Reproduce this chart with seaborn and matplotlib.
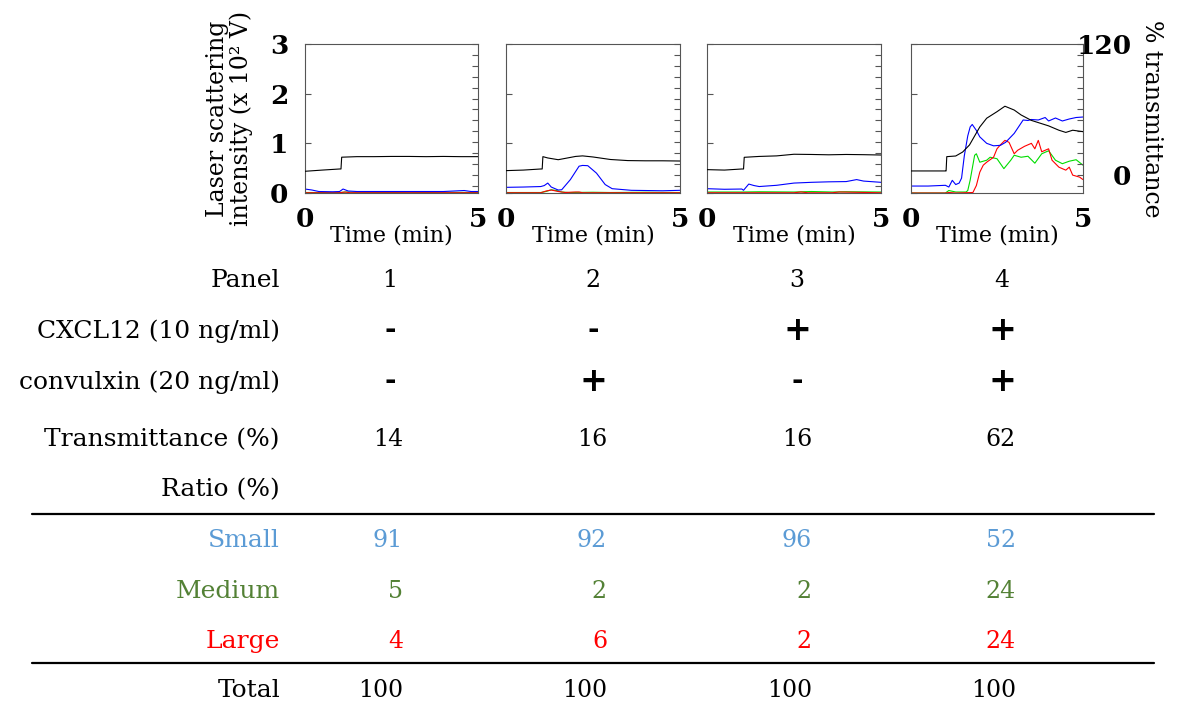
import matplotlib
matplotlib.use("Agg")
import matplotlib.pyplot as plt
import seaborn as sns
from matplotlib.lines import Line2D
from matplotlib.ticker import MultipleLocator, FixedLocator

sns.set_theme(style="white", rc={"text.color": "black", "axes.labelcolor": "black",
                                 "xtick.color": "black", "ytick.color": "black"})
plt.rcParams['font.family'] = ['DejaVu Serif']

# ---------------- data: traces (time in min) ----------------
# black = % transmittance (right axis); blue/green/red = small/medium/large (left axis, x10^2 V)
p1_black_t = [0, 0.5, 1.0, 1.04, 1.06, 1.5, 2.0, 2.5, 3.0, 3.5, 4.0, 4.5, 5.0]
p1_black = [3.4, 4.5, 5.5, 5.5, 16.3, 16.8, 16.8, 17.0, 17.0, 16.8, 17.0, 16.8, 16.8]
p1_blue_t = [0, 0.2, 0.4, 0.8, 1.0, 1.1, 1.25, 1.5, 2.0, 3.0, 4.0, 4.6, 4.8, 5.0]
p1_blue = [0.08, 0.06, 0.03, 0.025, 0.03, 0.08, 0.04, 0.03, 0.03, 0.03, 0.03, 0.05, 0.03, 0.03]
p1_green_t = [0, 1.0, 1.2, 1.5, 2.5, 3.0, 3.5, 4.0, 5.0]
p1_green = [0.01, 0.01, 0.02, 0.015, 0.01, 0.015, 0.01, 0.015, 0.01]
p1_red_t = [0, 1.0, 1.15, 1.3, 5.0]
p1_red = [0.005, 0.005, 0.02, 0.005, 0.005]

p2_black_t = [0, 0.5, 1.0, 1.04, 1.06, 1.2, 1.5, 1.8, 2.0, 2.2, 2.5, 3.0, 3.5, 4.0, 4.5, 5.0]
p2_black = [4.0, 4.5, 5.5, 5.5, 16.8, 15.6, 14.0, 15.8, 17.0, 17.5, 16.5, 14.2, 13.2, 13.0, 13.0, 12.8]
p2_blue_t = [0, 0.5, 1.0, 1.1, 1.2, 1.3, 1.5, 1.6, 1.85, 2.1, 2.2, 2.35, 2.6, 2.85, 3.05, 3.6, 4.0, 4.5, 5.0]
p2_blue = [0.114, 0.12, 0.13, 0.15, 0.2, 0.12, 0.06, 0.065, 0.27, 0.54, 0.555, 0.55, 0.4, 0.17, 0.087, 0.054, 0.05, 0.045, 0.054]
p2_green_t = [0, 1.0, 1.15, 1.3, 1.45, 1.6, 1.8, 2.5, 3.0, 4.0, 5.0]
p2_green = [0.01, 0.01, 0.03, 0.065, 0.05, 0.02, 0.01, 0.015, 0.01, 0.015, 0.01]
p2_red_t = [0, 1.0, 1.15, 1.3, 1.5, 1.7, 2.0, 2.1, 2.2, 2.4, 5.0]
p2_red = [0.005, 0.005, 0.04, 0.06, 0.03, 0.01, 0.02, 0.02, 0.005, 0.005, 0.005]

p3_black_t = [0, 0.5, 1.0, 1.05, 1.07, 1.5, 2.0, 2.5, 3.0, 3.5, 4.0, 4.5, 5.0]
p3_black = [4.9, 4.5, 5.5, 5.5, 16.2, 17.0, 17.5, 19.0, 18.8, 18.5, 18.8, 18.6, 18.3]
p3_blue_t = [0, 0.5, 1.0, 1.05, 1.2, 1.35, 1.5, 2.0, 2.5, 3.0, 3.5, 4.0, 4.3, 4.5, 5.0]
p3_blue = [0.087, 0.075, 0.08, 0.055, 0.18, 0.15, 0.13, 0.155, 0.2, 0.215, 0.225, 0.23, 0.27, 0.24, 0.215]
p3_green_t = [0, 1.0, 1.5, 2.5, 3.0, 3.6, 4.0, 5.0]
p3_green = [0.02, 0.02, 0.025, 0.02, 0.03, 0.02, 0.025, 0.02]
p3_red_t = [0, 2.5, 2.7, 2.9, 3.6, 3.8, 5.0]
p3_red = [0.005, 0.005, 0.02, 0.005, 0.005, 0.02, 0.005]

p4_black_t = [0, 0.5, 1.0, 1.02, 1.04, 1.3, 1.5, 1.7, 2.0, 2.2, 2.5, 2.73, 3.0, 3.2, 3.5, 3.8, 4.0, 4.3, 4.5, 4.7, 5.0]
p4_black = [3.7, 3.7, 3.7, 3.7, 16.8, 17.4, 21, 27.5, 44, 52, 58, 63, 59.5, 55, 50, 47, 45, 41, 39, 41, 39.7]
p4_blue_t = [0, 0.5, 1.0, 1.1, 1.2, 1.3, 1.4, 1.47, 1.55, 1.65, 1.72, 1.78, 1.9, 2.0, 2.2, 2.4, 2.6, 2.75,
             3.0, 3.26, 3.4, 3.5, 3.7, 3.9, 4.0, 4.2, 4.4, 4.6, 4.8, 5.0]
p4_blue = [0.14, 0.14, 0.155, 0.12, 0.255, 0.17, 0.2, 0.3, 0.75, 1.15, 1.33, 1.38, 1.26, 1.13, 1.0, 0.95, 0.96, 1.02,
           1.2, 1.47, 1.46, 1.48, 1.47, 1.52, 1.45, 1.51, 1.45, 1.49, 1.52, 1.53]
p4_green_t = [0, 1.0, 1.1, 1.3, 1.6, 1.65, 1.72, 1.85, 1.9, 2.0, 2.2, 2.3, 2.5, 2.7, 2.9, 3.0, 3.2, 3.4, 3.6,
              3.8, 4.0, 4.2, 4.4, 4.6, 4.8, 5.0]
p4_green = [0, 0, 0.05, 0.02, 0.02, 0.05, 0.26, 0.76, 0.79, 0.62, 0.66, 0.72, 0.69, 0.49, 0.66, 0.76, 0.72, 0.74, 0.6,
            0.79, 0.85, 0.66, 0.59, 0.64, 0.67, 0.56]
p4_red_t = [0, 1.0, 1.1, 1.3, 1.8, 1.9, 2.0, 2.1, 2.2, 2.4, 2.5, 2.6, 2.73, 2.85, 3.0, 3.1, 3.3, 3.5, 3.6, 3.7,
            3.8, 4.0, 4.1, 4.3, 4.5, 4.6, 4.7, 4.9, 5.0]
p4_red = [0, 0, 0.01, 0, 0.01, 0.15, 0.42, 0.56, 0.62, 0.72, 0.89, 0.97, 1.06, 1.02, 0.79, 0.86, 0.94, 1.0, 0.89, 1.06,
          0.83, 0.89, 0.66, 0.52, 0.46, 0.52, 0.36, 0.32, 0.27]

# ---------------- data: table ----------------
row_labels = ["Panel", "CXCL12 (10 ng/ml)", "convulxin (20 ng/ml)", "Transmittance (%)", "Ratio (%)",
              "Small", "Medium", "Large", "Total"]
panels = ["1", "2", "3", "4"]
cxcl12 = ["-", "-", "+", "+"]
convulxin = ["-", "+", "-", "+"]
transmittance = [14, 16, 16, 62]
small = [91, 92, 96, 52]
medium = [5, 2, 2, 24]
large = [4, 6, 2, 24]
total = [100, 100, 100, 100]

# ---------------- figure ----------------
W, H = 1178, 702
fig = plt.figure(figsize=(W / 100, H / 100), dpi=100)
fig.patch.set_facecolor("white")


def rect(l, r, t, b):
    return [l / W, 1 - b / H, (r - l) / W, (b - t) / H]


panel_x = [(305, 478), (506, 680), (707, 881), (911, 1083)]
traces = [
    (p1_black_t, p1_black, p1_blue_t, p1_blue, p1_green_t, p1_green, p1_red_t, p1_red),
    (p2_black_t, p2_black, p2_blue_t, p2_blue, p2_green_t, p2_green, p2_red_t, p2_red),
    (p3_black_t, p3_black, p3_blue_t, p3_blue, p3_green_t, p3_green, p3_red_t, p3_red),
    (p4_black_t, p4_black, p4_blue_t, p4_blue, p4_green_t, p4_green, p4_red_t, p4_red),
]
spine_c = "#555555"
TICK_FS = 19

for i, ((l, r), tr) in enumerate(zip(panel_x, traces)):
    bt, bv, ut, uv, gt, gv, rt, rv = tr
    ax = fig.add_axes(rect(l, r, 44, 193))
    ax.set_facecolor("white")
    sns.lineplot(x=gt, y=gv, ax=ax, color="#00dd00", lw=0.8, estimator=None, sort=False)
    sns.lineplot(x=rt, y=rv, ax=ax, color="#ff0000", lw=0.8, estimator=None, sort=False)
    sns.lineplot(x=ut, y=uv, ax=ax, color="#0000ff", lw=0.8, estimator=None, sort=False)
    ax.set_xlim(0, 5)
    ax.set_ylim(0, 3)
    ax.set_xticks([0, 5])
    ax.xaxis.set_minor_locator(FixedLocator([1, 2, 3, 4]))
    ax.set_yticks([0, 1, 2, 3])
    ax.tick_params(axis="both", which="both", direction="in", length=4, width=0.8, color=spine_c,
                   labelsize=TICK_FS)
    ax.tick_params(axis="x", which="major", pad=10, length=0)
    ax.tick_params(axis="y", which="major", pad=12)
    for lab in ax.get_xticklabels() + ax.get_yticklabels():
        lab.set_fontweight("bold")
    ax.set_xlabel("Time (min)", fontsize=16, labelpad=-5)
    if i == 0:
        ax.set_ylabel("Laser scattering\nintensity (x 10² V)", fontsize=17, labelpad=12, linespacing=1.05)
    else:
        ax.set_yticklabels([])
        ax.set_ylabel("")
    for s in ax.spines.values():
        s.set_color(spine_c)
        s.set_linewidth(0.8)
        s.set_visible(True)

    tw = ax.twinx()
    sns.lineplot(x=bt, y=bv, ax=tw, color="black", lw=0.8, estimator=None, sort=False)
    tw.set_ylim(-16.5, 120)
    tw.set_yticks([0, 120])
    tw.yaxis.set_minor_locator(MultipleLocator(10))
    tw.tick_params(axis="y", which="both", direction="in", length=4, width=0.8, color=spine_c,
                   labelsize=TICK_FS)
    for s in tw.spines.values():
        s.set_visible(False)
    if i == 3:
        tw.tick_params(axis="y", which="major", pad=35)
        for lab in tw.get_yticklabels():
            lab.set_ha("right")
            lab.set_fontweight("bold")
        tw.set_ylabel("% transmittance", rotation=270, fontsize=17, labelpad=6, va="bottom")
    else:
        tw.set_yticklabels([])
        tw.set_ylabel("")

# ---------------- table ----------------
FS_LAB = 18
FS_NUM = 17
label_right = 280
col_center = [390, 593, 797, 1002]
col_right = [403, 607, 812, 1016]
baselines = [287, 338, 389, 446, 496, 547, 598, 648, 697]
c_small, c_med, c_large = "#5b9bd5", "#538135", "#ff0000"
label_colors = ["black"] * 5 + [c_small, c_med, c_large, "black"]


def ftext(x, y, s, fs=FS_NUM, **kw):
    fig.text(x / W, 1 - y / H, s, va="baseline", fontsize=fs, **kw)


for lab, yb, c in zip(row_labels, baselines, label_colors):
    ftext(label_right, yb, lab, fs=FS_LAB, ha="right", color=c)

for j in range(4):
    ftext(col_center[j], baselines[0], panels[j], ha="center")
    for rowi, vals in ((1, cxcl12), (2, convulxin)):
        s = vals[j]
        if s == "+":
            fig.text(col_center[j] / W, 1 - (baselines[rowi] + 2) / H, s, ha="center", va="baseline",
                     fontsize=24, fontweight="bold", family="DejaVu Sans")
        else:
            fig.text(col_center[j] / W, 1 - baselines[rowi] / H, s, ha="center", va="baseline",
                     fontsize=20, fontweight="bold", family="DejaVu Sans")
    ftext(col_right[j], baselines[3], str(transmittance[j]), ha="right")
    ftext(col_right[j], baselines[5], str(small[j]), ha="right", color=c_small)
    ftext(col_right[j], baselines[6], str(medium[j]), ha="right", color=c_med)
    ftext(col_right[j], baselines[7], str(large[j]), ha="right", color=c_large)
    ftext(col_right[j], baselines[8], str(total[j]), ha="right")

for yl in (514, 663):
    fig.add_artist(Line2D([32 / W, 1154 / W], [1 - yl / H, 1 - yl / H], color="black", lw=1.6))

fig.savefig("out.png", dpi=100, facecolor="white")
